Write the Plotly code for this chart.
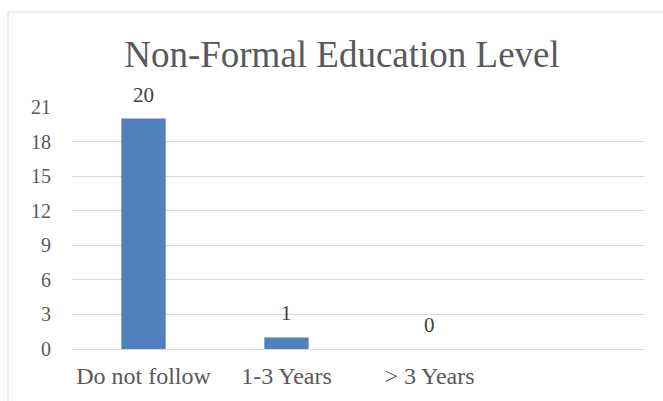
import plotly.graph_objects as go

categories = ["Do not follow", "1-3 Years", "> 3 Years", " "]
values = [20, 1, 0, None]
labels = ["20", "1", "0", ""]
y_ticks = [0, 3, 6, 9, 12, 15, 18, 21]

W, H = 663, 401
ml, mr, mt, mb = 72, 19, 107, 52
pw, ph = W - ml - mr, H - mt - mb

fig = go.Figure()
fig.add_trace(go.Bar(
    x=categories, y=values, width=0.31,
    marker=dict(color="#4F81BD", line=dict(width=0)),
    hoverinfo="skip",
))

for c, v, t in zip(categories, values, labels):
    if t:
        fig.add_annotation(x=c, y=v, text=t, showarrow=False, yanchor="bottom",
                           yshift=10, font=dict(family="Liberation Serif", size=21, color="#404040"))

# outer chart border (light gray frame)
fig.add_shape(type="rect", xref="paper", yref="paper",
              x0=(8 - ml) / pw, x1=(700 - ml) / pw,
              y0=(H - mb - 430) / ph, y1=(H - mb - 12) / ph,
              line=dict(color="#D9D9D9", width=1), fillcolor="rgba(0,0,0,0)", layer="below")

fig.update_layout(
    width=W, height=H,
    margin=dict(l=ml, r=mr, t=mt, b=mb),
    paper_bgcolor="white", plot_bgcolor="white",
    showlegend=False,
    title=dict(text="Non-Formal Education Level", x=(342 - ml) / pw * (pw / W) + ml / W,
               xanchor="center", xref="paper",
               y=1 - 54 / H, yanchor="middle",
               font=dict(family="Liberation Serif", size=37, color="#595959")),
    font=dict(family="Liberation Serif", size=20, color="#595959"),
    bargap=0.69,
)
fig.update_layout(title_xref="container", title_x=342 / W)
fig.update_xaxes(type="category", categoryorder="array", categoryarray=categories,
                 range=[-0.5, 3.5], showgrid=False, showline=False, ticks="",
                 tickfont=dict(family="Liberation Serif", size=24, color="#595959"),
                 ticklabelstandoff=10, zeroline=False)
fig.update_yaxes(range=[0, 21], tickvals=y_ticks, ticktext=[str(v) for v in y_ticks],
                 showgrid=True, gridcolor="#D9D9D9", gridwidth=1, zeroline=True,
                 zerolinecolor="#D9D9D9", zerolinewidth=1, showline=False, ticks="",
                 tickfont=dict(family="Liberation Serif", size=20, color="#595959"),
                 ticklabelstandoff=20)

fig.write_html("out.html")
